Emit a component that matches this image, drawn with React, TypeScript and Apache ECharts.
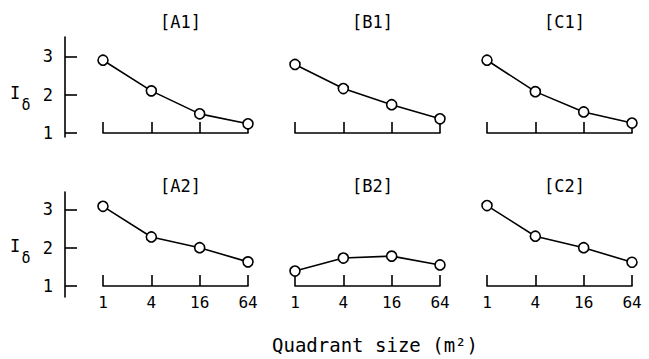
import React, { useEffect, useRef } from "react";
import * as echarts from "echarts";

const categories = ["1", "4", "16", "64"];
const yTickValues = [1, 2, 3];
const panelNames = ["[A1]", "[B1]", "[C1]", "[A2]", "[B2]", "[C2]"];
const seriesA1 = [2.9, 2.1, 1.5, 1.24];
const seriesB1 = [2.79, 2.16, 1.74, 1.37];
const seriesC1 = [2.9, 2.08, 1.55, 1.26];
const seriesA2 = [3.08, 2.28, 2.0, 1.63];
const seriesB2 = [1.39, 1.73, 1.78, 1.55];
const seriesC2 = [3.1, 2.3, 2.0, 1.62];
const allSeries = [seriesA1, seriesB1, seriesC1, seriesA2, seriesB2, seriesC2];
const xAxisName = "Quadrant size (m²)";
const yAxisName = "I";
const yAxisSub = "δ";

const FONT = "'DejaVu Sans Mono', 'Liberation Mono', monospace";

export default function App() {
  const ref = useRef<HTMLDivElement>(null);
  useEffect(() => {
    document.body.style.margin = "0";
    const chart = echarts.init(ref.current!, null, { renderer: "svg" });
    const colLefts = [103, 295, 487];
    const colWidth = 145;
    const rows = [
      { top: 37, height: 100, v1: 133, scale: 38.3 },
      { top: 192, height: 105, v1: 286, scale: 38.3 },
    ];
    const grids: any[] = [];
    const xAxes: any[] = [];
    const yAxes: any[] = [];
    const series: any[] = [];
    const graphics: any[] = [];
    for (let i = 0; i < 6; i++) {
      const r = Math.floor(i / 3);
      const c = i % 3;
      const row = rows[r];
      const bottomPx = row.top + row.height;
      const min = 1 - (bottomPx - row.v1) / row.scale;
      const max = 1 + (row.v1 - row.top) / row.scale;
      grids.push({ left: colLefts[c], top: row.top, width: colWidth, height: row.height });
      xAxes.push({
        type: "category",
        gridIndex: i,
        data: categories,
        boundaryGap: false,
        position: "bottom",
        offset: -(bottomPx - row.v1),
        axisLine: { onZero: false, lineStyle: { color: "#000", width: 1.6 } },
        axisTick: { inside: true, length: 11, lineStyle: { color: "#000", width: 1.6 } },
        axisLabel: {
          show: r === 1,
          color: "#000",
          fontSize: 16,
          fontFamily: FONT,
          margin: 8,
        },
        splitLine: { show: false },
      });
      yAxes.push({
        type: "value",
        gridIndex: i,
        min,
        max,
        show: c === 0,
        offset: 38,
        axisLine: { show: true, lineStyle: { color: "#000", width: 1.6 } },
        axisTick: {
          show: true,
          inside: true,
          length: 12,
          customValues: yTickValues,
          lineStyle: { color: "#000", width: 1.6 },
        },
        axisLabel: {
          color: "#000",
          fontSize: 17,
          fontFamily: FONT,
          margin: 12,
          customValues: yTickValues,
        },
        splitLine: { show: false },
      });
      series.push({
        type: "line",
        xAxisIndex: i,
        yAxisIndex: i,
        data: allSeries[i],
        symbol: "circle",
        symbolSize: 10,
        lineStyle: { color: "#000", width: 1.6 },
        itemStyle: { color: "#fff", borderColor: "#000", borderWidth: 1.6 },
      });
      graphics.push({
        type: "text",
        x: colLefts[c] + colWidth / 2 + 5,
        y: r === 0 ? 22 : 186,
        style: {
          text: panelNames[i],
          fill: "#000",
          font: `17px ${FONT}`,
          textAlign: "center",
          textVerticalAlign: "middle",
        },
      });
    }
    [93, 246].forEach((yy) => {
      graphics.push({
        type: "text",
        x: 15,
        y: yy,
        style: { text: yAxisName, fill: "#000", font: `17px ${FONT}`, textAlign: "center", textVerticalAlign: "middle" },
      });
      graphics.push({
        type: "text",
        x: 26,
        y: yy + 12,
        style: { text: yAxisSub, fill: "#000", font: `15px ${FONT}`, textAlign: "center", textVerticalAlign: "middle" },
      });
    });
    graphics.push({
      type: "text",
      x: 375,
      y: 345,
      style: { text: xAxisName, fill: "#000", font: `19px ${FONT}`, textAlign: "center", textVerticalAlign: "middle" },
    });
    chart.setOption({
      animation: false,
      backgroundColor: "#fff",
      grid: grids,
      xAxis: xAxes,
      yAxis: yAxes,
      series,
      graphic: graphics,
    });
    return () => chart.dispose();
  }, []);
  return <div ref={ref} style={{ width: 649, height: 359 }} />;
}
